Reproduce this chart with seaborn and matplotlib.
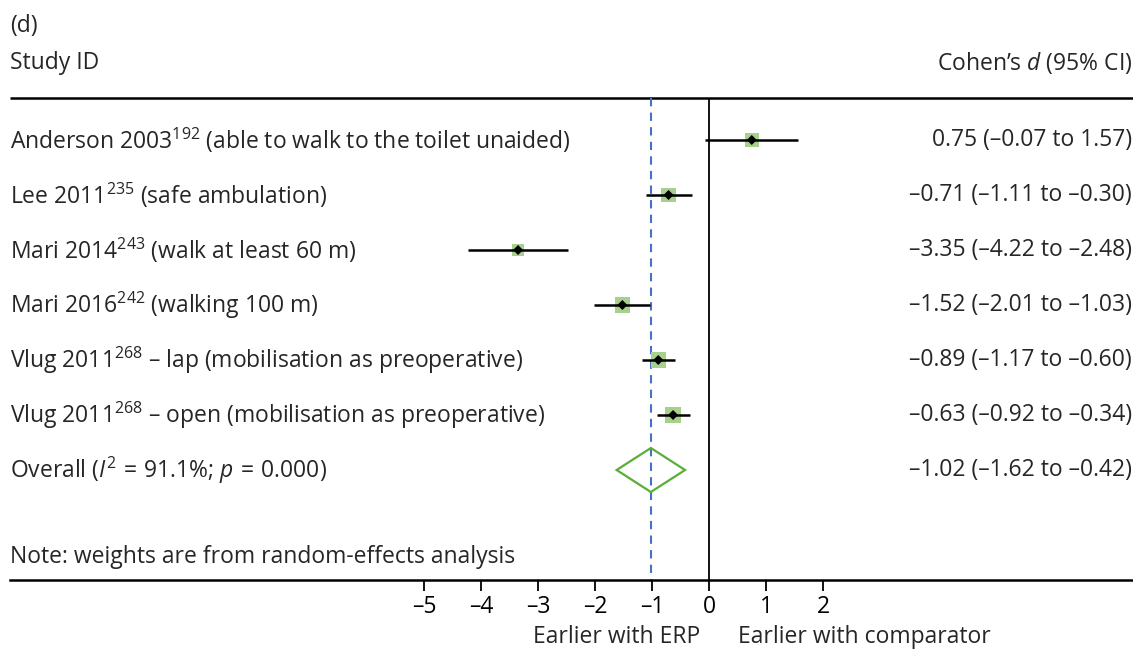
import matplotlib
matplotlib.use("Agg")
import matplotlib.pyplot as plt
import seaborn as sns
import pandas as pd
from matplotlib.patches import Polygon

# ---- data ----
studies = [
    "Anderson 2003$^{192}$ (able to walk to the toilet unaided)",
    "Lee 2011$^{235}$ (safe ambulation)",
    "Mari 2014$^{243}$ (walk at least 60 m)",
    "Mari 2016$^{242}$ (walking 100 m)",
    "Vlug 2011$^{268}$ – lap (mobilisation as preoperative)",
    "Vlug 2011$^{268}$ – open (mobilisation as preoperative)",
]
effect = [0.75, -0.71, -3.35, -1.52, -0.89, -0.63]
ci_low = [-0.07, -1.11, -4.22, -2.01, -1.17, -0.92]
ci_high = [1.57, -0.30, -2.48, -1.03, -0.60, -0.34]
weights = [15.0, 17.0, 13.5, 17.5, 18.5, 18.5]
ci_text = ["0.75 (–0.07 to 1.57)", "–0.71 (–1.11 to –0.30)", "–3.35 (–4.22 to –2.48)",
           "–1.52 (–2.01 to –1.03)", "–0.89 (–1.17 to –0.60)", "–0.63 (–0.92 to –0.34)"]
overall_label = "Overall ($I^{2}\\,{=}\\,$91.1%; $p\\,{=}\\,$0.000)"
overall_est, overall_lo, overall_hi = -1.02, -1.62, -0.42
overall_text = "–1.02 (–1.62 to –0.42)"
xticks = [-5, -4, -3, -2, -1, 0, 1, 2]
xtick_labels = ["–5", "–4", "–3", "–2", "–1", "0", "1", "2"]

sns.set_theme(style="white")
plt.rcParams["font.family"] = ["Open Sans", "DejaVu Sans"]
plt.rcParams["mathtext.fontset"] = "custom"
plt.rcParams["mathtext.rm"] = "Open Sans"
plt.rcParams["mathtext.it"] = "Open Sans:italic"
plt.rcParams["mathtext.bf"] = "Open Sans:bold"

W, H = 1133, 652
fig = plt.figure(figsize=(W / 100, H / 100), dpi=100)
ax = fig.add_axes([0, 0, 1, 1])

# pixel geometry -> data
X0PX, XUNIT = 709, 57.0
Y0PX, YUNIT = 140, 55.0
ax.set_xlim(-X0PX / XUNIT, (W - X0PX) / XUNIT)
ax.set_ylim((H - Y0PX) / YUNIT, -Y0PX / YUNIT)

FS = 16.5
n = len(studies)
rows = list(range(n))
df = pd.DataFrame({"row": rows, "effect": effect, "lo": ci_low, "hi": ci_high, "w": weights})

top_y = (98 - Y0PX) / YUNIT
bot_y = (580 - Y0PX) / YUNIT
xl = ax.get_xlim()
left_x = (10 - X0PX) / XUNIT
right_x = (1132 - X0PX) / XUNIT

# frame lines
ax.hlines(top_y, left_x, xl[1], color="black", lw=1.8)
ax.vlines(0, top_y, bot_y, color="black", lw=1.3)
ax.vlines(overall_est, top_y, bot_y, color="#4472c4", lw=1.5, linestyles=(0, (4, 3)))

# squares
sns.scatterplot(data=df, x="effect", y="row", size="w", sizes=(85, 125), marker="s",
                color="#a8d08d", edgecolor="none", legend=False, ax=ax, zorder=3)
ax.hlines(df["row"], df["lo"], df["hi"], color="black", lw=1.8, zorder=4)
sns.scatterplot(data=df, x="effect", y="row", marker="D", s=26, color="black",
                edgecolor="none", legend=False, ax=ax, zorder=5)

# diamond
orow = n
hh = 22 / YUNIT
ax.add_patch(Polygon([(overall_lo, orow), (overall_est, orow - hh), (overall_hi, orow),
                      (overall_est, orow + hh)], closed=True, fill=False,
                     edgecolor="#5aae3a", lw=1.6, zorder=4))

# texts
for r, lab, ct in zip(rows, studies, ci_text):
    ax.text(left_x, r, lab, ha="left", va="center", fontsize=FS)
    ax.text(right_x, r, ct, ha="right", va="center", fontsize=FS)
ax.text(left_x, orow, overall_label, ha="left", va="center", fontsize=FS)
ax.text(right_x, orow, overall_text, ha="right", va="center", fontsize=FS)

ax.text(left_x, (26 - Y0PX) / YUNIT, "(d)", ha="left", va="center", fontsize=FS)
ax.text(left_x, (63 - Y0PX) / YUNIT, "Study ID", ha="left", va="center", fontsize=FS)
ax.text(right_x, (63 - Y0PX) / YUNIT, "Cohen’s $d$ (95% CI)", ha="right", va="center", fontsize=FS)
ax.text(left_x, (557 - Y0PX) / YUNIT, "Note: weights are from random-effects analysis",
        ha="left", va="center", fontsize=FS)

# axis
for s in ["top", "left", "right"]:
    ax.spines[s].set_visible(False)
ax.spines["bottom"].set_position(("data", bot_y))
ax.spines["bottom"].set_bounds(left_x, xl[1])
ax.spines["bottom"].set_linewidth(1.8)
ax.spines["bottom"].set_color("black")
ax.set_xticks(xticks)
ax.set_xticklabels(xtick_labels, fontsize=FS)
ax.tick_params(axis="x", direction="out", length=8, width=1.3, pad=3, bottom=True, colors="black")
ax.set_yticks([])
ax.set_xlabel("")
ax.set_ylabel("")

lab_y = (637 - Y0PX) / YUNIT
ax.text(-0.16, lab_y, "Earlier with ERP", ha="right", va="center", fontsize=FS)
ax.text(0.5, lab_y, "Earlier with comparator", ha="left", va="center", fontsize=FS)

fig.savefig("out.png", dpi=100)
